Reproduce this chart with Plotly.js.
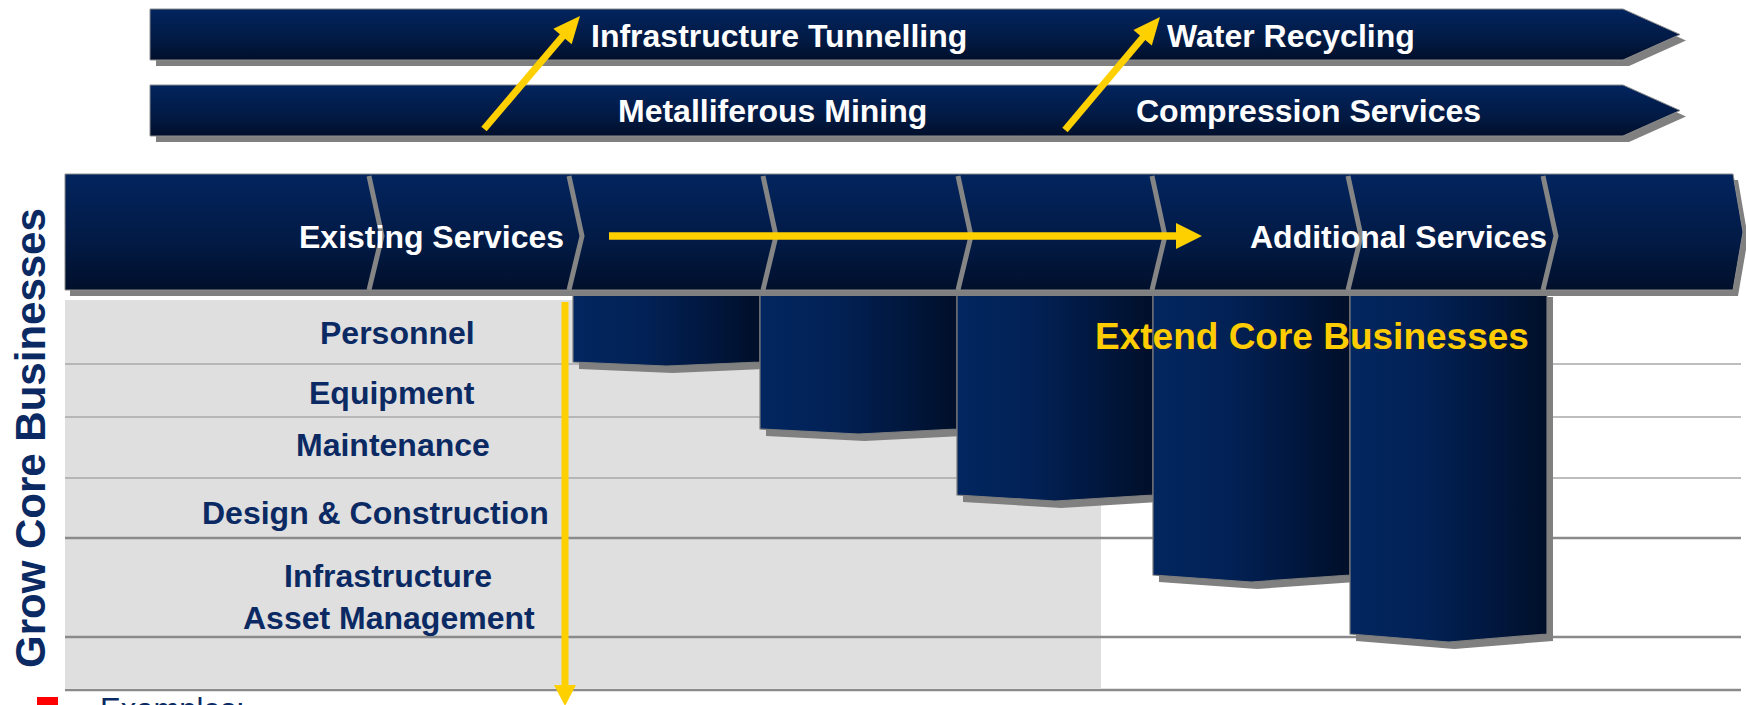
<!DOCTYPE html>
<html>
<head>
<meta charset="utf-8">
<script src="https://cdn.plot.ly/plotly-3.0.1.min.js"></script>
<style>html,body{margin:0;padding:0;background:#fff;}#chart{width:1746px;height:705px;}</style>
</head>
<body>
<div id="chart"></div>
<script>
// ---------- chart content ----------
const bannerTop = ["Infrastructure Tunnelling", "Water Recycling"];
const bannerBottom = ["Metalliferous Mining", "Compression Services"];
const stageLabels = ["Existing Services", "Additional Services"];
const coreServices = ["Personnel", "Equipment", "Maintenance", "Design & Construction", "Infrastructure", "Asset Management"];
const sideTitle = "Grow Core Businesses";
const extendTitle = "Extend Core Businesses";
const footnote = "Examples:";
// depth of each extension column below the service band (axis units)
const extensionDepth = [72, 139, 205, 285, 344];

// ---------- layout constants ----------
const W = 1746, H = 705;
const NAVY_TXT = "#0b2a63", GOLD = "#ffd000", SHADOW = "#808080";
const FONT = "Liberation Sans, Arial, sans-serif";
const bandTop = 174, bandBot = 290, bandLeft = 65, bandRight = 1733, bandTip = 1743;
const dividers = [369, 569, 763, 958, 1152, 1348, 1543];
const colEdges = [573, 760, 957, 1153, 1350, 1547];
const rowLines = [364, 417, 478, 538, 637, 690];
const rowLabelPos = [[397,333],[392,393],[393,445],[375,513],[388,576],[389,618]];

const vGrad = {type: "vertical", colorscale: [[0, "#010f2b"], [0.4, "#021a44"], [1, "#02245e"]]};
const hGrad = {type: "horizontal", colorscale: [[0, "#02265f"], [0.35, "#022257"], [0.7, "#011840"], [1, "#000f29"]]};

function poly(pts, opts) {
  const xs = pts.map(p => p[0]).concat([pts[0][0]]);
  const ys = pts.map(p => p[1]).concat([pts[0][1]]);
  const t = {type: "scatter", mode: "lines", x: xs, y: ys, fill: "toself", hoverinfo: "skip",
    showlegend: false, line: {width: opts.lw || 0, color: opts.lc || "rgba(0,0,0,0)"}};
  if (opts.grad) t.fillgradient = opts.grad; else t.fillcolor = opts.fill;
  return t;
}
function shift(pts, dx, dy) { return pts.map(p => [p[0] + dx, p[1] + dy]); }

const traces = [];

// extension columns (drawn first so the band covers their tops)
function colPts(i) {
  const x0 = colEdges[i], x1 = colEdges[i + 1];
  const yb = bandBot + extensionDepth[i], dip = 4 + i;
  return [[x0, bandBot], [x1, bandBot], [x1, yb], [(x0 + x1) / 2, yb + dip], [x0, yb]];
}
extensionDepth.forEach((d, i) => traces.push(poly(shift(colPts(i), 6, 7), {fill: SHADOW})));
extensionDepth.forEach((d, i) => traces.push(poly(colPts(i), {grad: hGrad, lw: 1.2, lc: "#7d7d7d"})));

// service band
const bandPts = [[bandLeft, bandTop], [bandRight, bandTop], [bandTip, (bandTop + bandBot) / 2], [bandRight, bandBot], [bandLeft, bandBot]];
traces.push(poly(shift(bandPts, 5, 6), {fill: SHADOW}));
traces.push(poly(bandPts, {grad: vGrad, lw: 1, lc: "#8c8c8c"}));
dividers.forEach(x => {
  traces.push({type: "scatter", mode: "lines", x: [x, x + 13, x], y: [bandTop + 2, (bandTop + bandBot) / 2 + 4, bandBot],
    line: {color: "#858585", width: 5}, hoverinfo: "skip", showlegend: false});
});

// top banners
[[9, 60], [85, 136]].forEach(([t, b]) => {
  const pts = [[150, t], [1623, t], [1680, (t + b) / 2], [1623, b], [150, b]];
  traces.push(poly(shift(pts, 6, 6), {fill: SHADOW}));
  traces.push(poly(pts, {grad: vGrad, lw: 1, lc: "#8c8c8c"}));
});

// ---------- shapes ----------
const shapes = [];
shapes.push({type: "rect", xref: "x", yref: "y", x0: 65, x1: 1101, y0: 300, y1: 688, fillcolor: "#dfdfdf", line: {width: 0}, layer: "below"});
rowLines.forEach((y, i) => {
  shapes.push({type: "line", xref: "x", yref: "y", x0: 65, x1: 1741, y0: y, y1: y, layer: "below",
    line: {color: i < 3 ? "#a8a8a8" : "#8a8a8a", width: i < 3 ? 1.6 : 2.6}});
});
function arrow(x0, y0, x1, y1, w, hl, hw) {
  const dx = x1 - x0, dy = y1 - y0, L = Math.hypot(dx, dy), ux = dx / L, uy = dy / L, px = -uy, py = ux;
  const bx = x1 - ux * hl, by = y1 - uy * hl;
  shapes.push({type: "line", xref: "x", yref: "y", x0: x0, y0: y0, x1: bx + ux, y1: by + uy, line: {color: GOLD, width: w}});
  shapes.push({type: "path", xref: "x", yref: "y", fillcolor: GOLD, line: {width: 0},
    path: `M ${x1} ${y1} L ${bx + px * hw / 2} ${by + py * hw / 2} L ${bx - px * hw / 2} ${by - py * hw / 2} Z`});
}
arrow(484, 129, 580, 16, 7, 27, 24);
arrow(1065, 130, 1160, 17, 7, 27, 24);
arrow(609, 236, 1202, 236, 7.5, 26, 26);
arrow(565, 302, 565, 706, 7, 21, 22);
// footnote bullet
shapes.push({type: "rect", xref: "x", yref: "y", x0: 37, x1: 58, y0: 697, y1: 718, fillcolor: "#ff0000", line: {width: 0}});

// ---------- annotations ----------
const ann = [];
function txt(text, x, y, size, color, opts) {
  ann.push(Object.assign({text: text, x: x, y: y, xref: "x", yref: "y", showarrow: false,
    xanchor: "center", yanchor: "middle",
    font: {family: FONT, size: size, color: color, weight: 700}}, opts || {}));
}
txt(bannerTop[0], 779, 36, 32, "#ffffff");
txt(bannerTop[1], 1291, 36, 32, "#ffffff");
txt(bannerBottom[0], 772, 111, 32, "#ffffff");
txt(bannerBottom[1], 1308, 111, 32, "#ffffff");
txt(stageLabels[0], 431, 237, 32, "#ffffff");
txt(stageLabels[1], 1398, 237, 32, "#ffffff");
coreServices.forEach((s, i) => txt(s, rowLabelPos[i][0], rowLabelPos[i][1], 32, NAVY_TXT));
txt(extendTitle, 1312, 336, 37, "#ffcc00");
txt(sideTitle, 30, 438, 42, NAVY_TXT, {textangle: -90});
// footnote sits partly below the page edge, so anchor it in paper coordinates
ann.push({text: footnote, x: 98 / W, y: (H - 690) / H, xref: "paper", yref: "paper", showarrow: false,
  xanchor: "left", yanchor: "top", font: {family: FONT, size: 31, color: NAVY_TXT}});

const layout = {
  width: W, height: H, margin: {l: 0, r: 0, t: 0, b: 0},
  paper_bgcolor: "#ffffff", plot_bgcolor: "#ffffff",
  xaxis: {range: [0, W], visible: false, fixedrange: true},
  yaxis: {range: [H, 0], visible: false, fixedrange: true},
  shapes: shapes, annotations: ann, showlegend: false
};
Plotly.newPlot("chart", traces, layout, {staticPlot: true, displayModeBar: false});
</script>
</body>
</html>
